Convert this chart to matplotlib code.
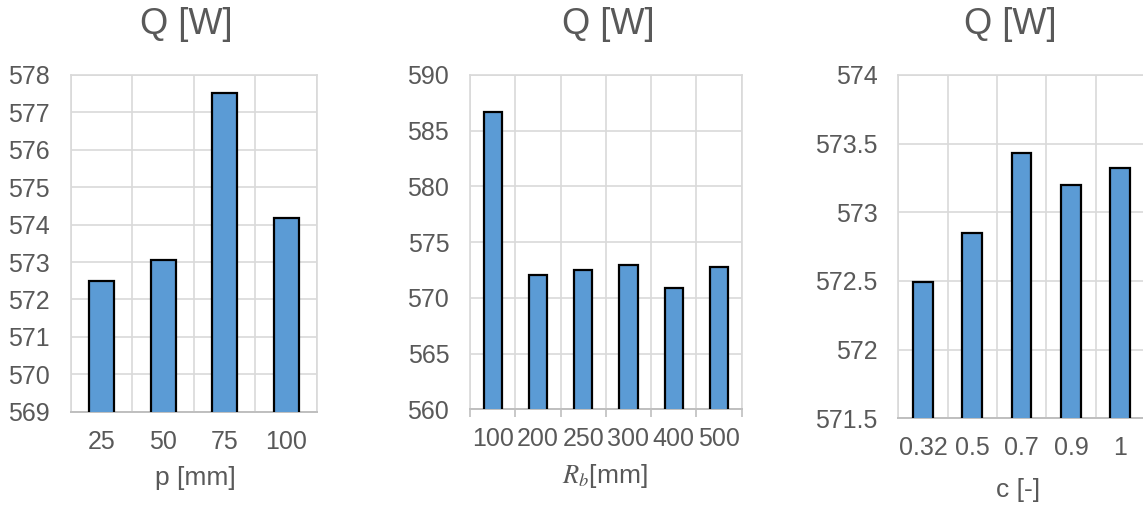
import numpy as np
import matplotlib.pyplot as plt
from matplotlib.ticker import MultipleLocator, FixedLocator

plt.rcParams['font.family'] = ['Liberation Sans', 'DejaVu Sans']
plt.rcParams['mathtext.fontset'] = 'stix'

# dados dos tres graficos
p_cat = ['25', '50', '75', '100']
p_q = [572.48, 573.05, 577.51, 574.17]

rb_cat = ['100', '200', '250', '300', '400', '500']
rb_q = [586.7, 572.06, 572.48, 572.95, 570.92, 572.75]

c_cat = ['0.32', '0.5', '0.7', '0.9', '1']
c_q = [572.49, 572.85, 573.43, 573.20, 573.32]

cor_txt = '#595959'
cor_grid = '#d9d9d9'
cor_barra = '#5b9bd5'

fig = plt.figure(figsize=(11.43, 5.05), dpi=100)

def painel(pos, cats, vals, ylim, passo, xlabel, titulo_x, xlabel_x, xlabel_y,
           ticks_fora=False, fmt=None):
    ax = fig.add_axes(pos)
    x = np.arange(len(cats))
    ax.bar(x, vals, width=0.4, color=cor_barra, edgecolor='black', linewidth=1.6,
           zorder=3)
    ax.set_xlim(-0.5, len(cats) - 0.5)
    ax.set_ylim(*ylim)
    ax.yaxis.set_major_locator(MultipleLocator(passo))
    if fmt is not None:
        ax.yaxis.set_major_formatter(fmt)
    ax.set_xticks(x)
    ax.set_xticklabels(cats)
    ax.xaxis.set_minor_locator(FixedLocator(np.arange(-0.5, len(cats), 1.0)))
    ax.grid(True, axis='y', which='major', color=cor_grid, linewidth=1.2, zorder=0)
    ax.grid(True, axis='x', which='minor', color=cor_grid, linewidth=1.2, zorder=0)
    ax.tick_params(axis='both', which='major', length=0, labelsize=18,
                   colors=cor_txt)
    ax.tick_params(axis='y', pad=15)
    ax.tick_params(axis='x', pad=13)
    if ticks_fora:
        ax.tick_params(axis='x', which='minor', length=6, color='#bfbfbf', width=1.2)
    else:
        ax.tick_params(axis='x', which='minor', length=0)
    for s in ['top', 'right', 'left']:
        ax.spines[s].set_color(cor_grid)
        ax.spines[s].set_linewidth(1.2)
    ax.spines['bottom'].set_color('#bfbfbf')
    ax.spines['bottom'].set_linewidth(1.4)
    fig.text(titulo_x, 1 - 24 / 505, 'Q [W]', ha='center', va='center',
             fontsize=26, color=cor_txt)
    fig.text(xlabel_x, xlabel_y, xlabel, ha='center', va='center', fontsize=19,
             color=cor_txt)
    return ax

painel([0.0621, 0.1848, 0.2152, 0.6667], p_cat, p_q, (569, 578), 1,
       'p [mm]', 186 / 1143, 195 / 1143, 1 - 478 / 505)

painel([0.4112, 0.1895, 0.2377, 0.662], rb_cat, rb_q, (560, 590), 5,
       '$R_b$[mm]', 608 / 1143, 605 / 1143, 1 - 476 / 505, ticks_fora=True)

fmt_c = plt.FuncFormatter(lambda v, pos: ('%g' % v))
painel([0.7859, 0.1717, 0.2158, 0.6798], c_cat, c_q, (571.5, 574), 0.5,
       'c [-]', 1010 / 1143, 1018 / 1143, 1 - 490 / 505, fmt=fmt_c)

plt.savefig('out.png', dpi=100)
